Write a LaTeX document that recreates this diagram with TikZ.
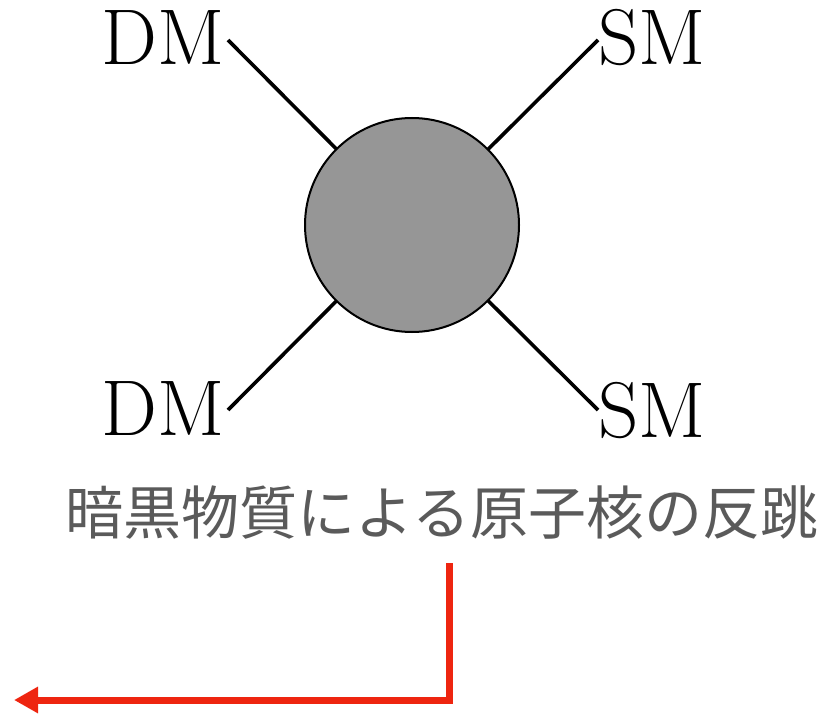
\documentclass[tikz,border=0pt]{standalone}
\usepackage{fontspec}
\newfontfamily\cjk{Noto Sans CJK JP}
\usetikzlibrary{arrows.meta}
\definecolor{blobgray}{HTML}{969696}
\definecolor{txtgray}{HTML}{5A5A5A}
\definecolor{arrred}{HTML}{EE2510}
\tikzset{
  lbl/.style={inner sep=0pt, font=\fontsize{79}{84}\selectfont},
  leg/.style={line width=3.6pt, black},
  blob/.style={circle, draw=black, line width=2pt, fill=blobgray, minimum size=214pt, inner sep=0pt},
  jp/.style={inner sep=0pt, text=txtgray, font=\cjk\fontsize{58}{64}\selectfont},
  redarrow/.style={line width=7pt, arrred, -{Triangle[length=24pt,width=25pt]}}
}
\begin{document}
\begin{tikzpicture}[x=1pt,y=-1pt]
\useasboundingbox (0,0) rectangle (837,714);
\node[lbl, anchor=base east] (dm1) at (225,65) {DM};
\node[lbl, anchor=base west] (sm1) at (598,65) {SM};
\node[lbl, anchor=base east] (dm2) at (225,435) {DM};
\node[lbl, anchor=base west] (sm2) at (598,437) {SM};
\coordinate (e1) at (228,40);
\coordinate (e2) at (598,40);
\coordinate (e3) at (228,410);
\coordinate (e4) at (598,410);
\coordinate (cc) at (412,225);
\draw[leg] (e1) -- (cc);
\draw[leg] (e2) -- (cc);
\draw[leg] (e3) -- (cc);
\draw[leg] (e4) -- (cc);
\node[blob] (c) at (cc) {};
\node[jp] (t) at (442,513) {暗黒物質による原子核の反跳};
\coordinate (a0) at (449,563);
\coordinate (a1) at (14,700);
\draw[redarrow] (a0) |- (a1);
\end{tikzpicture}
\end{document}
